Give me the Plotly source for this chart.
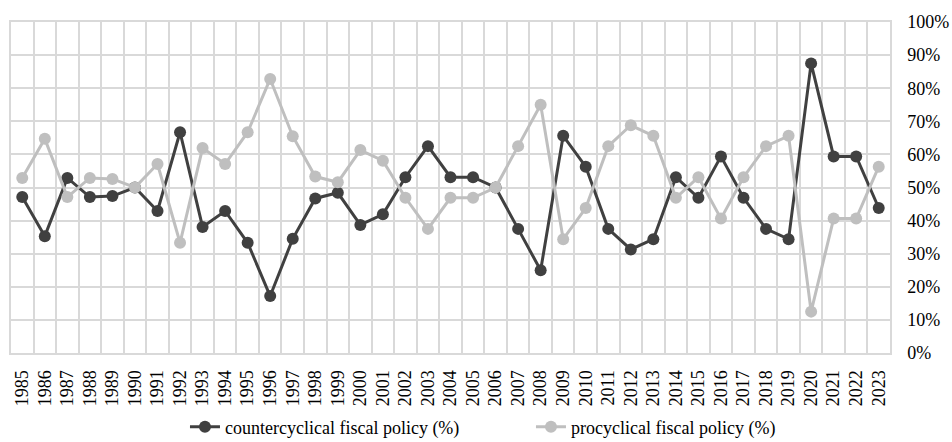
import plotly.graph_objects as go

years = [str(y) for y in range(1985, 2024)]
countercyclical = [47.1, 35.3, 52.9, 47.1, 47.4, 50.0, 42.9, 66.7, 38.1, 42.9,
                   33.3, 17.2, 34.5, 46.7, 48.4, 38.7, 41.9, 53.1, 62.5, 53.1,
                   53.1, 50.0, 37.5, 25.0, 65.6, 56.3, 37.5, 31.3, 34.4, 53.1,
                   46.9, 59.4, 46.9, 37.5, 34.4, 87.5, 59.4, 59.4, 43.8]
procyclical = [52.9, 64.7, 47.1, 52.9, 52.6, 50.0, 57.1, 33.3, 61.9, 57.1,
               66.7, 82.8, 65.5, 53.3, 51.6, 61.3, 58.1, 46.9, 37.5, 46.9,
               46.9, 50.0, 62.5, 75.0, 34.4, 43.8, 62.5, 68.8, 65.6, 46.9,
               53.1, 40.6, 53.1, 62.5, 65.6, 12.5, 40.6, 40.6, 56.3]

FONT = "Times New Roman"
DARK = "#404040"
LIGHT = "#BFBFBF"
GRID = "#D9D9D9"

fig = go.Figure()
fig.add_trace(go.Scatter(
    x=years, y=countercyclical, mode="lines+markers",
    name="countercyclical fiscal policy (%)",
    line=dict(color=DARK, width=3),
    marker=dict(color=DARK, size=12),
))
fig.add_trace(go.Scatter(
    x=years, y=procyclical, mode="lines+markers",
    name="procyclical fiscal policy (%)",
    line=dict(color=LIGHT, width=3),
    marker=dict(color=LIGHT, size=12),
))

fig.update_layout(
    width=952, height=442,
    margin=dict(l=11, r=62, t=22, b=89, autoexpand=False),
    paper_bgcolor="white", plot_bgcolor="white",
    font=dict(family=FONT, size=18, color="#000000"),
    showlegend=True,
    legend=dict(orientation="h", xref="container", yref="container",
                x=0.1943, xanchor="left", y=0.0339, yanchor="middle",
                entrywidth=301, entrywidthmode="pixels",
                font=dict(family=FONT, size=18), itemwidth=30,
                bgcolor="rgba(0,0,0,0)", borderwidth=0),
    xaxis=dict(type="category", tickson="boundaries", showgrid=True,
               range=[-0.5, len(years) - 0.5], automargin=False,
               gridcolor=GRID, gridwidth=1.5, tickangle=-90,
               ticks="", ticklabelstandoff=8,
               showline=True, linecolor=GRID, linewidth=2, mirror=True,
               tickfont=dict(family=FONT, size=18)),
    yaxis=dict(range=[0, 100], dtick=10, ticksuffix="%", side="right",
               automargin=False,
               showgrid=True, gridcolor=GRID, gridwidth=1.5, zeroline=False,
               showline=True, linecolor=GRID, linewidth=1.5, mirror=True,
               ticks="", ticklabelstandoff=12,
               tickfont=dict(family=FONT, size=18)),
)

fig.write_html(
    "out.html",
    config={"displayModeBar": False},
    post_script="document.body.style.margin='0';"
                "document.documentElement.style.overflow='hidden';",
)
